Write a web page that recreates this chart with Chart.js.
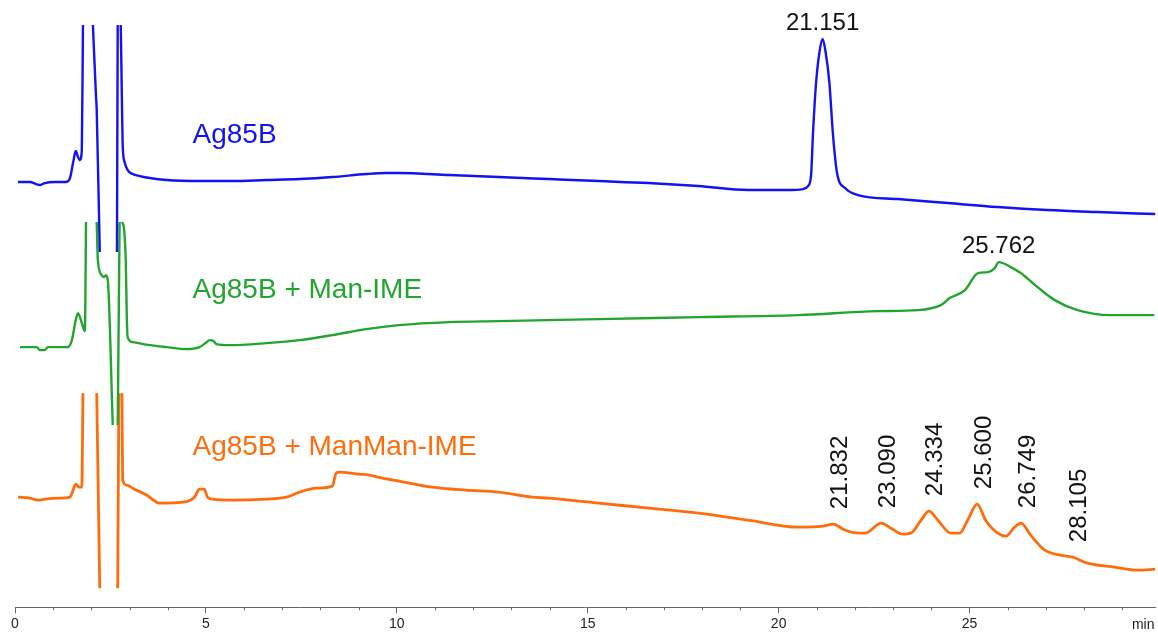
<!DOCTYPE html>
<html>
<head>
<meta charset="utf-8">
<title>Ag85B chromatograms</title>
<script src="https://cdn.jsdelivr.net/npm/chart.js@4.4.1/dist/chart.umd.min.js"></script>
<style>
  html, body { margin: 0; padding: 0; background: #fff; }
  #wrap { width: 1158px; height: 635px; }
</style>
</head>
<body>
<div id="wrap"><canvas id="chrom" width="1158" height="635"></canvas></div>
<script>
/* retention time axis (min) */
const X_MIN = 0;
const X_MAX = 29.87;
const MAJOR_STEP = 5;

/* trace names / colours */
const traceNames  = ['Ag85B', 'Ag85B + Man-IME', 'Ag85B + ManMan-IME'];
const traceColors = ['#1212f2', '#22a52e', '#ff6c0c'];
/* stacked baseline of each trace (signal units) */
const traceOffsets = [425, 260, 110];
/* display time shift of each trace (min) */
const traceShifts  = [0, 0, -0.4];

/* Ag85B  (null = clipped off-scale) */
const blueTime = [
  0.08, 0.39, 0.55, 0.65, 0.78, 1.05, 1.33, 1.44, 1.52, 1.59, 1.65, 1.70, 1.75, 1.78,
  1.90, 2.04, 2.12, 2.14, 2.22, 2.45, 2.67, 2.69, 2.73, 2.77, 2.80, 2.82, 2.87, 2.95,
  3.08, 3.27, 3.53, 3.97, 4.83, 5.70, 6.58, 7.45, 8.31, 9.20, 9.70, 10.06, 11.37, 12.67,
  13.98, 15.29, 16.59, 17.90, 19.21, 20.25, 20.64, 20.77, 20.85, 20.90, 20.98, 21.07,
  21.151, 21.23, 21.33, 21.42, 21.53, 21.74, 22.08, 23.12, 24.43, 25.74, 27.04, 28.35, 29.87
];
const blueSignal = [
  0, 0, -2, -3, -1, 0, 0, 4, 19, 31, 25, 22, 32, 157,
  null, 157, 87, 72, -70, null, -70, 157, null, 157, 82, 37, 20, 12,
  8, 6, 4, 2, 1, 1, 2, 3, 5, 8, 9, 9, 7, 5,
  3, 1, -1, -4, -8, -8, -7, -4, 7, 49, 99, 130,
  143, 130, 99, 49, 9, -6, -13, -17, -21, -25, -28, -30, -32
];

/* Ag85B + Man-IME */
const greenTime = [
  0.13, 0.57, 0.65, 0.78, 0.86, 1.38, 1.49, 1.59, 1.65, 1.75, 1.83, 1.86,
  1.95, 2.14, 2.17, 2.27, 2.33, 2.38, 2.43, 2.56, 2.60, 2.69, 2.74, 2.76,
  2.80, 2.85, 2.90, 2.93, 2.95, 3.08, 3.53, 3.97, 4.49, 4.83, 4.99, 5.10, 5.20, 5.28,
  5.62, 6.58, 7.45, 8.31, 9.20, 10.06, 11.37, 12.67, 15.29, 17.90, 20.51, 22.60,
  23.65, 24.25, 24.48, 24.88, 25.22, 25.48, 25.66, 25.762, 26.08, 26.34, 26.78,
  27.23, 27.83, 28.69, 29.84
];
const greenSignal = [
  0, 0, -3, -3, 0, 0, 7, 27, 34, 24, 16, 125,
  null, 125, 87, 72, 70, 72, 67, -78, null, -78, 125, null,
  125, 120, 87, 27, 10, 5, 2, 0, -2, 0, 4, 7, 6, 3,
  2, 4, 7, 12, 18, 22, 25, 26, 28, 30, 32, 36,
  37, 42, 49, 57, 74, 75, 79, 85, 80, 74, 60,
  47, 37, 32, 32
];

/* Ag85B + ManMan-IME (recorded time) */
const orangeTime = [
  0.48, 0.79, 1.00, 1.18, 1.58, 1.84, 1.92, 1.99, 2.07, 2.15, 2.18,
  2.30, 2.54, 2.62, 2.85, 3.09, 3.12, 3.15,
  3.20, 3.22, 3.33, 3.48, 3.85, 4.19, 4.79, 5.10, 5.23, 5.36, 5.44, 5.57,
  6.10, 6.98, 7.51, 7.85, 8.29, 8.71, 8.81, 8.89, 9.41, 9.68, 10.02, 10.46,
  11.32, 12.21, 13.07, 13.94, 14.38, 15.69, 17.01, 18.30, 19.61, 20.91, 21.57,
  21.832, 22.09, 22.30, 22.66, 23.090, 23.34, 23.66, 23.86, 24.13, 24.334, 24.57,
  24.91, 25.14, 25.35, 25.600, 25.82, 26.14, 26.35, 26.58, 26.749, 27.00, 27.37,
  27.78, 28.105, 28.49, 29.20, 29.80, 30.27
];
const orangeSignal = [
  0, -1, -3, -2, -1, 0, 7, 13, 10, 10, 104,
  null, 104, -91, null, -91, 104, null,
  104, 17, 12, 9, 2, -6, -5, 0, 8, 8, 0, -2,
  -3, -2, 0, 5, 9, 11, 24, 25, 23, 22, 19, 16,
  10, 7, 5, 0, -1, -6, -11, -16, -23, -30, -29,
  -27, -32, -35, -36, -26, -31, -37, -36, -23, -14, -23,
  -36, -36, -23, -7, -23, -36, -39, -30, -26, -38, -53,
  -58, -60, -66, -70, -73, -72
];

/* labelled peaks (retention time, min) */
const bluePeaks   = [21.151];
const greenPeaks  = [25.762];
const orangePeaks = [21.832, 23.090, 24.334, 25.600, 26.749, 28.105];

const FONT = '"Liberation Sans", Arial, Helvetica, sans-serif';

function buildPoints(times, signal, offset, shift) {
    return times.map((t, i) => ({
        x: +(t + shift).toFixed(4),
        y: signal[i] === null ? null : signal[i] + offset
    }));
}

const traces = [
    [blueTime, blueSignal],
    [greenTime, greenSignal],
    [orangeTime, orangeSignal]
];

const datasets = traces.map(([times, signal], i) => ({
    label: traceNames[i],
    data: buildPoints(times, signal, traceOffsets[i], traceShifts[i]),
    borderColor: traceColors[i],
    borderWidth: i === 2 ? 2.8 : 2.4,
    pointRadius: 0,
    cubicInterpolationMode: 'monotone',
    spanGaps: false,
    fill: false
}));

/* ── trace names, peak labels, minor ticks, "min" unit ── */
const annotate = {
    id: 'annotate',
    afterDatasetsDraw(chart) {
        const { ctx, scales: { x, y } } = chart;
        ctx.save();

        // trace names
        const nameLift = [39, 49, 42];
        ctx.font = '28px ' + FONT;
        ctx.textAlign = 'left';
        ctx.textBaseline = 'alphabetic';
        traceNames.forEach((name, i) => {
            ctx.fillStyle = traceColors[i];
            ctx.fillText(name, x.getPixelForValue(4.65), y.getPixelForValue(traceOffsets[i] + nameLift[i]));
        });

        // peak apex of a trace at a given time
        const apex = (di, times, t) => {
            const el = chart.getDatasetMeta(di).data[times.indexOf(t)];
            return el ? { px: el.x, py: el.y } : null;
        };

        ctx.fillStyle = '#111';
        ctx.font = '24px ' + FONT;
        ctx.textAlign = 'center';
        ctx.textBaseline = 'alphabetic';
        [[0, blueTime, bluePeaks], [1, greenTime, greenPeaks]].forEach(([di, times, peaks]) => {
            peaks.forEach(t => {
                const p = apex(di, times, t);
                if (p) ctx.fillText(t.toFixed(3), p.px, p.py - 9);
            });
        });

        // rotated labels on the ManMan trace
        ctx.textAlign = 'left';
        ctx.textBaseline = 'middle';
        orangePeaks.forEach(t => {
            const p = apex(2, orangeTime, t);
            if (!p) return;
            ctx.save();
            ctx.translate(p.px + 7, p.py - 15);
            ctx.rotate(-Math.PI / 2);
            ctx.fillText(t.toFixed(3), 0, 0);
            ctx.restore();
        });

        // minor ticks every minute
        const axisY = x.top;
        ctx.strokeStyle = '#666';
        ctx.lineWidth = 1;
        ctx.beginPath();
        for (let m = Math.ceil(X_MIN); m <= X_MAX; m++) {
            if (m % MAJOR_STEP === 0) continue;
            const px = Math.round(x.getPixelForValue(m)) + 0.5;
            ctx.moveTo(px, axisY);
            ctx.lineTo(px, axisY + 3);
        }
        ctx.stroke();

        // time unit at the right end of the axis
        ctx.fillStyle = '#222';
        ctx.font = '14px ' + FONT;
        ctx.textAlign = 'right';
        ctx.textBaseline = 'middle';
        ctx.fillText('min', x.right - 1, axisY + 18);

        ctx.restore();
    }
};

new Chart(document.getElementById('chrom'), {
    type: 'line',
    data: { datasets },
    options: {
        responsive: false,
        animation: false,
        devicePixelRatio: 1,
        layout: { padding: { left: 15, right: 0, top: 0, bottom: 0 } },
        plugins: {
            legend: { display: false },
            tooltip: { enabled: false }
        },
        scales: {
            x: {
                type: 'linear',
                min: X_MIN,
                max: X_MAX,
                border: { display: true, color: '#666', width: 1 },
                grid: {
                    drawOnChartArea: false,
                    drawTicks: true,
                    tickLength: 6,
                    tickColor: c => (c.tick && c.tick.value % MAJOR_STEP === 0) ? '#666' : 'rgba(0,0,0,0)'
                },
                ticks: {
                    stepSize: 1,
                    autoSkip: false,
                    maxRotation: 0,
                    padding: 2.5,
                    color: '#222',
                    font: { family: FONT, size: 14 },
                    callback: v => (v % MAJOR_STEP === 0 ? String(v) : '')
                }
            },
            y: {
                display: false,
                min: 0,
                max: 607
            }
        }
    },
    plugins: [annotate]
});
</script>
</body>
</html>
